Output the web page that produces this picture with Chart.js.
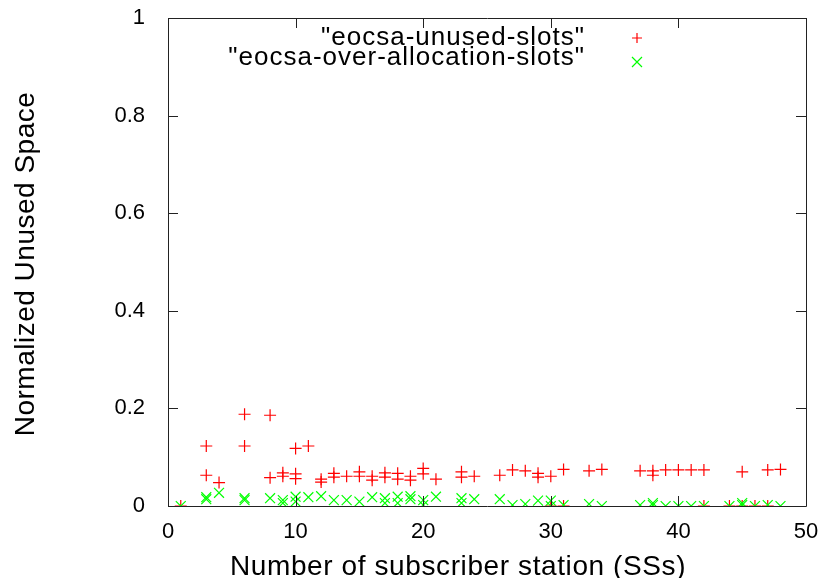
<!DOCTYPE html>
<html>
<head>
<meta charset="utf-8">
<script src="https://cdn.jsdelivr.net/npm/chart.js@4/dist/chart.umd.min.js"></script>
<style>
  html, body { margin: 0; padding: 0; background: #fff; }
  #wrap { width: 820px; height: 578px; }
</style>
</head>
<body>
<div id="wrap"><canvas id="myChart" width="820" height="578"></canvas></div>
<script>
// x = number of SSs, y = normalized unused space
var unusedX = [1, 3, 3, 4, 6, 6, 8, 8, 9, 9, 10, 10, 10, 11, 12, 12, 13, 13, 14, 15, 15, 16, 16,
  17, 17, 18, 18, 19, 19, 20, 20, 21, 23, 23, 24, 26, 27, 28, 29, 29, 30, 30, 31, 31, 33, 34,
  37, 38, 38, 39, 40, 41, 42, 42, 44, 45, 45, 46, 47, 47, 48];
var unusedY = [0, 0.123, 0.063, 0.048, 0.188, 0.123, 0.186, 0.058, 0.068, 0.061, 0.118, 0.066, 0.056,
  0.123, 0.055, 0.049, 0.067, 0.059, 0.061, 0.070, 0.061, 0.061, 0.053,
  0.068, 0.059, 0.067, 0.055, 0.061, 0.053, 0.077, 0.066, 0.055, 0.070, 0.059, 0.061, 0.063, 0.074,
  0.072, 0.067, 0.059, 0.061, 0, 0.075, 0, 0.072, 0.075,
  0.072, 0.072, 0.063, 0.074, 0.074, 0.074, 0.074, 0, 0, 0.070, 0, 0, 0.074, 0, 0.075];

var overX = [1, 3, 3, 4, 6, 6, 8, 9, 9, 10, 10, 11, 12, 13, 14, 15, 16, 17, 17, 18, 18, 19, 19,
  20, 20, 21, 23, 23, 24, 26, 27, 28, 29, 30, 30, 31, 33, 34, 37, 38, 38, 39, 40, 41, 42,
  44, 45, 45, 46, 47, 48];
var overY = [0, 0.018, 0.014, 0.027, 0.016, 0.012, 0.016, 0.012, 0.006, 0.019, 0.009, 0.018, 0.020,
  0.012, 0.012, 0.009, 0.018, 0.016, 0.006, 0.019, 0.006, 0.020, 0.014,
  0.012, 0.002, 0.019, 0.016, 0.006, 0.014, 0.014, 0.002, 0.004, 0.011, 0.011, 0, 0.002, 0.004, 0,
  0.002, 0.006, 0.002, 0, 0, 0, 0,
  0, 0.006, 0.002, 0, 0.002, 0];

var seriesNames = ['"eocsa-unused-slots"', '"eocsa-over-allocation-slots"'];
var xTitle = "Number of subscriber station (SSs)";
var yTitle = "Normalized Unused Space";

function toPoints(xs, ys) {
  return xs.map(function (x, i) { return { x: x, y: ys[i] }; });
}

var FONT = "'Liberation Sans', Arial, sans-serif";

// gnuplot-like frame with inward ticks on all four sides, plus key and axis titles
var gnuplotFrame = {
  id: "gnuplotFrame",
  afterDatasetsDraw: function (chart) {
    var ctx = chart.ctx;
    var a = chart.chartArea;
    var xs = chart.scales.x, ys = chart.scales.y;
    var tl = 10;
    ctx.save();
    ctx.strokeStyle = "#222";
    ctx.lineWidth = 1;
    ctx.beginPath();
    ctx.rect(Math.round(a.left) + 0.5, Math.round(a.top) + 0.5, Math.round(a.right - a.left), Math.round(a.bottom - a.top));
    xs.ticks.forEach(function (t) {
      var px = Math.round(xs.getPixelForValue(t.value)) + 0.5;
      ctx.moveTo(px, a.bottom); ctx.lineTo(px, a.bottom - tl);
      ctx.moveTo(px, a.top); ctx.lineTo(px, a.top + tl);
    });
    ys.ticks.forEach(function (t) {
      var py = Math.round(ys.getPixelForValue(t.value)) + 0.5;
      ctx.moveTo(a.left, py); ctx.lineTo(a.left + tl, py);
      ctx.moveTo(a.right, py); ctx.lineTo(a.right - tl, py);
    });
    ctx.stroke();

    // key
    ctx.font = "26px " + FONT;
    ctx.letterSpacing = "1px";
    ctx.fillStyle = "#000";
    ctx.textAlign = "right";
    ctx.textBaseline = "alphabetic";
    var keyRows = [45, 65];
    var markRows = [38, 62];
    chart.data.datasets.forEach(function (ds, i) {
      ctx.fillText(ds.label, 585, keyRows[i]);
      var cx = 637, y = markRows[i], r = 5;
      ctx.strokeStyle = ds.borderColor;
      ctx.lineWidth = 1.2;
      ctx.beginPath();
      if (ds.pointStyle === "cross") {
        ctx.moveTo(cx - r, y); ctx.lineTo(cx + r, y);
        ctx.moveTo(cx, y - r); ctx.lineTo(cx, y + r);
      } else {
        ctx.moveTo(cx - r, y - r); ctx.lineTo(cx + r, y + r);
        ctx.moveTo(cx - r, y + r); ctx.lineTo(cx + r, y - r);
      }
      ctx.stroke();
    });

    // axis titles
    ctx.fillStyle = "#000";
    ctx.font = "28px " + FONT;
    ctx.letterSpacing = "0.6px";
    ctx.textAlign = "left";
    ctx.fillText(xTitle, 230, 575);
    ctx.letterSpacing = "0.5px";
    ctx.textAlign = "center";
    ctx.translate(34, 264);
    ctx.rotate(-Math.PI / 2);
    ctx.fillText(yTitle, 0, 0);
    ctx.restore();
  }
};

const ctx = document.getElementById("myChart").getContext("2d");
const config = {
  type: "scatter",
  data: {
    datasets: [
      {
        label: seriesNames[0],
        data: toPoints(unusedX, unusedY),
        pointStyle: "cross",
        pointRadius: 6,
        pointBorderWidth: 1.2,
        borderColor: "#ff0000",
        backgroundColor: "#ff0000",
        order: 1,
      },
      {
        label: seriesNames[1],
        data: toPoints(overX, overY),
        pointStyle: "crossRot",
        pointRadius: 7,
        pointBorderWidth: 1.2,
        borderColor: "#00ff00",
        backgroundColor: "#00ff00",
        order: 0,
      },
    ],
  },
  options: {
    responsive: false,
    animation: false,
    layout: { padding: { top: 18, right: 14, left: 0, bottom: 0 } },
    plugins: {
      legend: { display: false },
      tooltip: { enabled: false },
    },
    scales: {
      x: {
        type: "linear",
        min: 0,
        max: 50,
        grid: { display: false },
        border: { display: false },
        ticks: { stepSize: 10, padding: 5, color: "#000", font: { family: FONT, size: 22 } },
        afterFit: function (scale) {
          scale.height = 72;
          scale.paddingLeft = 0;
          scale.paddingRight = 0;
        },
      },
      y: {
        type: "linear",
        min: 0,
        max: 1,
        grid: { display: false },
        border: { display: false },
        ticks: {
          stepSize: 0.2, padding: 15, color: "#000", font: { family: FONT, size: 22 },
          callback: function (v) { return String(+v.toFixed(1)); },
        },
        afterFit: function (scale) {
          scale.width = 168;
          scale.paddingTop = 0;
          scale.paddingBottom = 0;
        },
      },
    },
  },
  plugins: [gnuplotFrame],
};
new Chart(ctx, config);
</script>
</body>
</html>
